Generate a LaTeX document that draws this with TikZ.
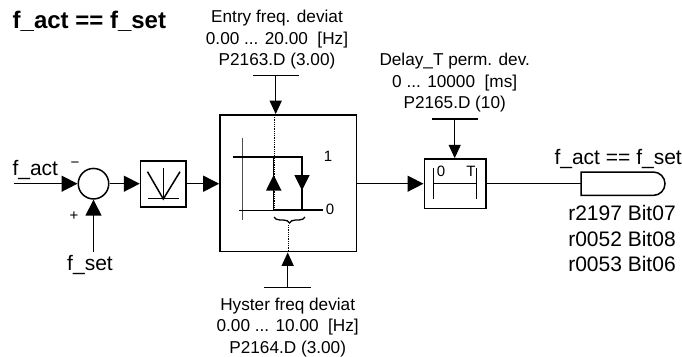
\documentclass[tikz,border=0pt]{standalone}
\usepackage{fontspec}
\setmainfont{Liberation Sans}
\usetikzlibrary{arrows.meta,decorations.pathreplacing}
\tikzset{
  x=1pt,y=-1pt,
  wire/.style={line width=1.5pt,-{Triangle[length=16pt,width=16pt]}},
  pwire/.style={line width=1.5pt,-{Triangle[length=13.5pt,width=12pt]}},
  plain/.style={line width=1.5pt},
  blockbox/.style={draw,line width=1.6pt,inner sep=0pt},
  ptxt/.style={inner sep=0pt,font=\fontsize{17.2}{21.7}\selectfont,align=center},
  lbl/.style={inner sep=0pt,anchor=base,font=\fontsize{21}{25.5}\selectfont},
  small/.style={inner sep=0pt,font=\fontsize{15}{18}\selectfont},
}
\begin{document}
\begin{tikzpicture}
\useasboundingbox (0,0) rectangle (682,356);
% title
\node[inner sep=0pt,anchor=base west,font=\bfseries\fontsize{24}{28}\selectfont] (title) at (12.5,28) {f\_act == f\_set};
% sum
\node[draw,circle,line width=1.5pt,minimum size=30.5pt,inner sep=0pt] (sum) at (93.5,183.7) {};
\coordinate (in1) at (13.5,183.7);
\coordinate (in2) at (93.5,252);
\draw[wire] (in1) -- (sum.west);
\draw[wire] (in2) -- (sum.south);
\node[lbl] (fact) at (35.3,175) {f\_act};
\node[small] (minus) at (75,165) {−};
\node[small] (plus) at (74,216) {+};
\node[lbl] (fset) at (90,270) {f\_set};
% V block
\node[blockbox,minimum width=45.5pt,minimum height=46pt] (vb) at (163.3,183.7) {};
\draw[wire] (sum.east) -- (vb.west);
\draw[line width=1.2pt] (147.7,198.7) -- (179,198.7);
\draw[line width=1.4pt] (163.3,168.3) -- (163.3,198.7);
\draw[line width=1.5pt] (147.5,171.7) -- (163.3,199) -- (180,171.7);
% hysteresis block
\node[blockbox,minimum width=136.7pt,minimum height=136.7pt] (hb) at (288.3,183.3) {};
\draw[wire] (vb.east) -- (hb.west |- vb.east);
\draw[densely dotted,line width=0.8pt] (274.7,115) -- (274.7,210);
\draw[densely dotted,line width=0.8pt] (288.7,225) -- (288.7,251);
\draw[line width=0.7pt,black!70] (242.7,138) -- (242.7,220);
\draw[line width=0.7pt] (239,210) -- (274,210);
\draw[line width=1.5pt] (233,157) -- (302,157) -- (302,210);
\draw[line width=1.5pt] (273.7,157) -- (273.7,210);
\draw[line width=1.5pt] (273.7,210) -- (322.7,210);
\fill (273.7,175) -- (281.5,190.5) -- (266,190.5) -- cycle;
\fill (302,190.5) -- (294.3,175) -- (309.7,175) -- cycle;
\node[small] (one) at (328,156.5) {1};
\node[small] (zero) at (330,209) {0};
\draw[line width=1.3pt,decorate,decoration={brace,mirror,amplitude=6pt}] (274,217) -- (305,217);
% top parameter
\coordinate (tpb) at (275.7,75.7);
\draw[plain] (253,75.7) -- (299,75.7);
\draw[pwire] (tpb) -- (hb.north -| tpb);
\node[ptxt,anchor=south] (tp) at (277,69.6) {Entry freq. deviat\\0.00 ... 20.00~~[Hz]\\P2163.D (3.00)};
% bottom parameter
\coordinate (bpb) at (287.7,287.7);
\draw[plain] (264.3,287.7) -- (310.7,287.7);
\draw[pwire] (bpb) -- (hb.south -| bpb);
\node[ptxt,anchor=north] (bp) at (287.7,297.5) {Hyster freq deviat\\0.00 ... 10.00~~[Hz]\\P2164.D (3.00)};
% delay
\node[blockbox,minimum width=61.4pt,minimum height=49.3pt] (db) at (455,183.7) {};
\draw[wire] (hb.east |- db.west) -- (db.west);
\draw[line width=1.3pt] (433.7,168.3) -- (433.7,199);
\draw[line width=1.3pt] (476.7,168.3) -- (476.7,199);
\draw[line width=1.3pt] (433.7,183.7) -- (476.7,183.7);
\node[small] (d0) at (441,171) {0};
\node[small] (dT) at (471,171) {T};
\coordinate (dpb) at (454.7,119);
\draw[plain] (431.7,119) -- (477.7,119);
\draw[pwire] (dpb) -- (db.north -| dpb);
\node[ptxt,anchor=south] (dp) at (454.7,112.6) {Delay\_T perm. dev.\\0 ... 10000~~[ms]\\P2165.D (10)};
% output
\draw[line width=1.5pt] (581,172) -- (653.3,172) arc[start angle=-90,end angle=90,radius=11.7] -- (581,195.4) -- cycle;
\coordinate (op) at (581,183.7);
\draw[plain] (db.east) -- (op);
\node[lbl,anchor=base east] (ol) at (682,164) {f\_act == f\_set};
\node[lbl] (o1) at (622,220.7) {r2197 Bit07};
\node[lbl] (o2) at (622,246.5) {r0052 Bit08};
\node[lbl] (o3) at (622,271.7) {r0053 Bit06};
\end{tikzpicture}
\end{document}
